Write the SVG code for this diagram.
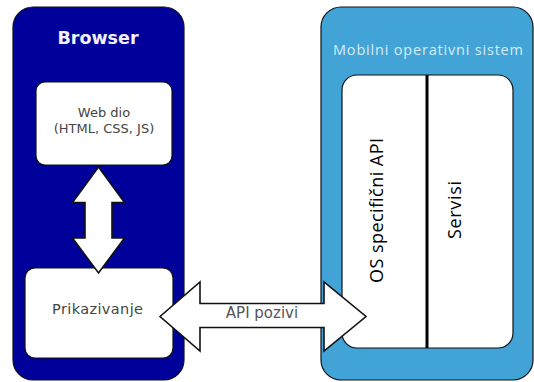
<svg xmlns="http://www.w3.org/2000/svg" width="534" height="382" viewBox="0 0 534 382">
  <defs>
    <style>
      .frame { stroke: #111; stroke-width: 1.2; }
      .box { fill: #ffffff; stroke: #111; stroke-width: 1.2; }
      .arrow { fill: #ffffff; stroke: #111; stroke-width: 1.6; stroke-linejoin: miter; }
      .label { font-family: "DejaVu Sans", sans-serif; fill: #444; text-anchor: middle; }
      .vlabel { font-family: "Open Sans", sans-serif; fill: #000; text-anchor: middle; }
    </style>
  </defs>

  <rect width="534" height="382" fill="#ffffff"/>

  <!-- Browser container -->
  <g id="browser">
    <rect class="frame" x="13" y="7" width="171" height="373" rx="20" fill="#00009a"/>
    <text x="98" y="44" font-family="DejaVu Sans, sans-serif" font-weight="bold" font-size="17.5" fill="#f2f2ff" text-anchor="middle">Browser</text>
  </g>

  <g id="web-dio">
    <rect class="box" x="36" y="82" width="136" height="83" rx="9"/>
    <text class="label" x="104" y="117" font-size="13">Web dio</text>
    <text class="label" x="104" y="133" font-size="13">(HTML, CSS, JS)</text>
  </g>

  <g id="prikazivanje">
    <rect class="box" x="25" y="268" width="148" height="90" rx="10"/>
    <text class="label" x="97.5" y="314" font-size="14.5" textLength="91">Prikazivanje</text>
  </g>

  <!-- Mobile OS container -->
  <g id="mobilni-os">
    <rect class="frame" x="321" y="7" width="212" height="373" rx="20" fill="#42a4d6"/>
    <text x="428" y="55" font-family="Open Sans, sans-serif" font-size="14.5" fill="#d6ebf8" text-anchor="middle" textLength="190">Mobilni operativni sistem</text>
  </g>

  <g id="os-api-servisi">
    <rect class="box" x="342" y="75" width="171" height="273" rx="15"/>
    <line x1="427" y1="75" x2="427" y2="348" stroke="#000" stroke-width="3"/>
    <text class="vlabel" transform="translate(383 210.5) rotate(-90)" font-size="18" textLength="145">OS specifični API</text>
    <text class="vlabel" transform="translate(461 210) rotate(-90)" font-size="18" textLength="58">Servisi</text>
  </g>

  <!-- Connectors: double-headed block arrows -->
  <g id="connectors">
    <polygon class="arrow" points="98.5,167 124.5,202.5 112,202.5 112,238 124.5,238 98.5,273 72.5,238 85,238 85,202.5 72.5,202.5"/>
    <polygon class="arrow" points="160,316.5 200,282 200,303.5 324,303.5 324,282 366,316.5 324,351 324,327.5 200,327.5 200,351"/>
    <text x="262" y="318" font-family="DejaVu Sans, sans-serif" font-size="15" fill="#555" text-anchor="middle">API pozivi</text>
  </g>
</svg>
